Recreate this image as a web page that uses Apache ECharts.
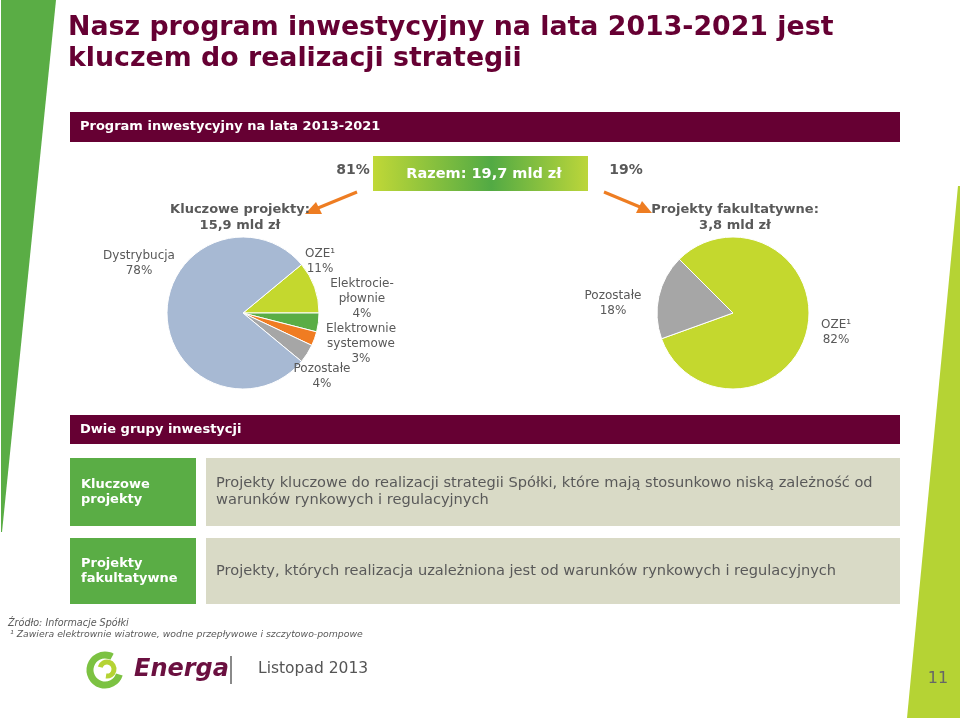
<!DOCTYPE html>
<html><head><meta charset="utf-8">
<script src="https://cdn.jsdelivr.net/npm/echarts@6/dist/echarts.min.js"></script>
<style>html,body{margin:0;padding:0;background:#fff}#c{width:960px;height:718px}</style>
</head><body><div id="c"></div>
<script>
// ---- data ----
const titleLines = ['Nasz program inwestycyjny na lata 2013-2021 jest', 'kluczem do realizacji strategii'];
const section1 = 'Program inwestycyjny na lata 2013-2021';
const totalLabel = 'Razem: 19,7 mld zł';
const splitShares = ['81%', '19%'];
const groupTitles = [['Kluczowe projekty:', '15,9 mld zł'], ['Projekty fakultatywne:', '3,8 mld zł']];
const keyCategories = ['OZE¹', 'Elektrocie-\npłownie', 'Elektrownie\nsystemowe', 'Pozostałe', 'Dystrybucja'];
const keyValues = [11, 4, 3, 4, 78];
const optCategories = ['OZE¹', 'Pozostałe'];
const optValues = [82, 18];
const section2 = 'Dwie grupy inwestycji';
const rowHeads = ['Kluczowe\nprojekty', 'Projekty\nfakultatywne'];
const rowTexts = ['Projekty kluczowe do realizacji strategii Spółki, które mają stosunkowo niską zależność od\nwarunków rynkowych i regulacyjnych',
  'Projekty, których realizacja uzależniona jest od warunków rynkowych i regulacyjnych'];
const footnotes = ['Źródło: Informacje Spółki', '¹ Zawiera elektrownie wiatrowe, wodne przepływowe i szczytowo-pompowe'];
const footerDate = 'Listopad 2013';
const pageNo = '11';

// ---- styles ----
const MAROON = '#660033', GRAY = '#595959';
const keyColors = ['#c4d82e', '#5aad45', '#f07c22', '#a6a6a6', '#a7b9d3'];
const optColors = ['#c4d82e', '#a6a6a6'];
const keyLabelPos = [[320, 261], [362, 299], [361, 344], [322, 376], [139, 263]];
const optLabelPos = [[836, 332], [613, 303]];
const F = 'DejaVu Sans, Verdana, sans-serif';

function txt(x, y, text, font, fill, align) {
  return {type: 'text', silent: true, z: 10, style: {x, y, text, font, fill, textAlign: align || 'left', textVerticalAlign: 'middle'}};
}
const g = [];
// decorations
g.push({type: 'polygon', shape: {points: [[1, 0], [56, 0], [2, 532], [1, 532]]}, style: {fill: '#5aad45'}, z: 0});
g.push({type: 'polygon', shape: {points: [[958, 186], [960, 186], [960, 718], [907, 718]]}, style: {fill: '#b5d334'}, z: 0});
// title
g.push(txt(68, 28, titleLines[0], 'bold 26.8px ' + F, MAROON));
g.push(txt(68, 59, titleLines[1], 'bold 26.8px ' + F, MAROON));
// section bars
g.push({type: 'rect', shape: {x: 70, y: 112, width: 830, height: 30}, style: {fill: MAROON}, z: 1});
g.push(txt(80, 127, section1, 'bold 13px ' + F, '#fff'));
g.push({type: 'rect', shape: {x: 70, y: 415, width: 830, height: 29}, style: {fill: MAROON}, z: 1});
g.push(txt(80, 430, section2, 'bold 13px ' + F, '#fff'));
// total box
g.push({type: 'rect', shape: {x: 373, y: 156, width: 215, height: 35}, style: {fill: new echarts.graphic.LinearGradient(0, 0, 1, 0, [
  {offset: 0, color: '#c0d837'}, {offset: 0.55, color: '#52aa44'}, {offset: 1, color: '#bcd63a'}])}, z: 1});
g.push(txt(484, 174, totalLabel, 'bold 14.5px ' + F, '#fff', 'center'));
g.push(txt(353, 170, splitShares[0], 'bold 14px ' + F, GRAY, 'center'));
g.push(txt(626, 170, splitShares[1], 'bold 14px ' + F, GRAY, 'center'));
// arrows
const OR = '#ee7d22';
g.push({type: 'line', shape: {x1: 357, y1: 192, x2: 318, y2: 208}, style: {stroke: OR, lineWidth: 3}, z: 2});
g.push({type: 'polygon', shape: {points: [[305, 214], [316, 202], [322, 214]]}, style: {fill: OR}, z: 2});
g.push({type: 'line', shape: {x1: 604, y1: 192, x2: 640, y2: 207}, style: {stroke: OR, lineWidth: 3}, z: 2});
g.push({type: 'polygon', shape: {points: [[652, 213], [636, 213], [642, 201]]}, style: {fill: OR}, z: 2});
// group titles
g.push(txt(240, 210, groupTitles[0][0], 'bold 13px ' + F, GRAY, 'center'));
g.push(txt(240, 226, groupTitles[0][1], 'bold 13px ' + F, GRAY, 'center'));
g.push(txt(735, 210, groupTitles[1][0], 'bold 13px ' + F, GRAY, 'center'));
g.push(txt(735, 226, groupTitles[1][1], 'bold 13px ' + F, GRAY, 'center'));
// rows
const rowY = [[458, 68], [538, 66]];
rowY.forEach((r, i) => {
  g.push({type: 'rect', shape: {x: 70, y: r[0], width: 126, height: r[1]}, style: {fill: '#5aad45'}, z: 1});
  g.push({type: 'rect', shape: {x: 206, y: r[0], width: 694, height: r[1]}, style: {fill: '#d9dac6'}, z: 1});
  g.push({type: 'text', z: 10, style: {x: 81, y: r[0] + r[1] / 2, text: rowHeads[i], font: 'bold 13px ' + F, fill: '#fff', textVerticalAlign: 'middle', lineHeight: 15}});
  g.push({type: 'text', z: 10, style: {x: 216, y: r[0] + r[1] / 2, text: rowTexts[i], font: '14.6px ' + F, fill: GRAY, textVerticalAlign: 'middle', lineHeight: 17}});
});
// footnotes
g.push(txt(8, 623, footnotes[0], 'italic 9.6px ' + F, GRAY));
g.push(txt(10, 635, footnotes[1], 'italic 9.3px ' + F, GRAY));
// logo
g.push({type: 'arc', shape: {cx: 105, cy: 670, r: 15, startAngle: 0.3, endAngle: 5.2}, style: {stroke: '#7cc242', lineWidth: 7, fill: null}, z: 2});
g.push({type: 'arc', shape: {cx: 107, cy: 669, r: 7, startAngle: 3.4, endAngle: 8.0}, style: {stroke: '#b5d334', lineWidth: 5, fill: null}, z: 2});
g.push(txt(134, 670, 'Energa', 'italic bold 24px ' + F, '#6b1040'));
g.push({type: 'line', shape: {x1: 231, y1: 656, x2: 231, y2: 684}, style: {stroke: '#8a8a8a', lineWidth: 2}, z: 2});
g.push(txt(258, 669, footerDate, '15.5px ' + F, '#555'));
g.push(txt(938, 679, pageNo, '16px ' + F, '#666', 'center'));

function layoutFor(pos) {
  return function (p) { const q = pos[p.dataIndex]; return {x: q[0], y: q[1], align: 'center', verticalAlign: 'middle'}; };
}
const labelStyle = {show: true, position: 'outside', color: GRAY, fontFamily: F, fontSize: 12, lineHeight: 15,
  formatter: p => p.name + '\n' + p.value + '%'};

const chart = echarts.init(document.getElementById('c'), null, {renderer: 'canvas'});
chart.setOption({
  animation: false,
  graphic: {elements: g},
  series: [
    {type: 'pie', center: [243, 313], radius: 76, startAngle: 39.6, clockwise: true, avoidLabelOverlap: false, silent: true,
      itemStyle: {borderColor: '#fff', borderWidth: 1}, label: labelStyle, labelLine: {show: false},
      labelLayout: layoutFor(keyLabelPos),
      data: keyCategories.map((n, i) => ({name: n, value: keyValues[i], itemStyle: {color: keyColors[i]}}))},
    {type: 'pie', center: [733, 313], radius: 76, startAngle: 135, clockwise: true, avoidLabelOverlap: false, silent: true,
      itemStyle: {borderColor: '#fff', borderWidth: 1}, label: labelStyle, labelLine: {show: false},
      labelLayout: layoutFor(optLabelPos),
      data: optCategories.map((n, i) => ({name: n, value: optValues[i], itemStyle: {color: optColors[i]}}))}
  ]
});
</script></body></html>
